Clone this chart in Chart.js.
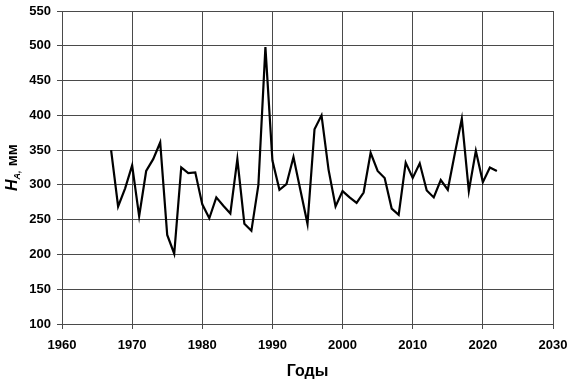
<!DOCTYPE html>
<html>
<head>
<meta charset="utf-8">
<script src="https://cdn.jsdelivr.net/npm/chart.js@4.4.0/dist/chart.umd.min.js"></script>
<style>
    html, body { margin: 0; padding: 0; background: #fff; }
    #wrap { width: 570px; height: 381px; }
</style>
</head>
<body>
<div id="wrap"><canvas id="chart" width="570" height="381"></canvas></div>
<script>
const years = [
    1967, 1968, 1969, 1970, 1971, 1972, 1973, 1974, 1975, 1976,
    1977, 1978, 1979, 1980, 1981, 1982, 1983, 1984, 1985, 1986,
    1987, 1988, 1989, 1990, 1991, 1992, 1993, 1994, 1995, 1996,
    1997, 1998, 1999, 2000, 2001, 2002, 2003, 2004, 2005, 2006,
    2007, 2008, 2009, 2010, 2011, 2012, 2013, 2014, 2015, 2016,
    2017, 2018, 2019, 2020, 2021, 2022
];
const runoff = [
    350, 269, 295, 328, 255, 320, 337, 361, 228, 201,
    325, 317, 318, 272, 252, 282, 270, 259, 337, 244,
    234, 300, 498, 335, 293, 301, 340, 292, 244, 380,
    400, 322, 269, 291, 282, 274, 289, 346, 320, 310,
    266, 257, 332, 310, 331, 292, 282, 307, 293, 345,
    395, 291, 349, 304, 325, 320
];
const xTicks = [1960, 1970, 1980, 1990, 2000, 2010, 2020, 2030];
const yTicks = [100, 150, 200, 250, 300, 350, 400, 450, 500, 550];

const FONT = "'Liberation Sans', Arial, sans-serif";
const GRID = '#4a4a4a';

// y-axis title with italic H and subscript "A,"
const yTitlePlugin = {
    id: 'yTitle',
    afterDraw(chart) {
        const ctx = chart.ctx;
        const cy = (chart.chartArea.top + chart.chartArea.bottom) / 2;
        ctx.save();
        ctx.translate(17, cy);
        ctx.rotate(-Math.PI / 2);
        ctx.fillStyle = '#000';
        ctx.textBaseline = 'alphabetic';
        const parts = [
            { t: 'H', f: `italic bold 16px ${FONT}`, dy: 0 },
            { t: 'A,', f: `italic bold 9px ${FONT}`, dy: 3 },
            { t: ' мм', f: `bold 15px ${FONT}`, dy: 0 }
        ];
        let total = 0;
        parts.forEach(p => { ctx.font = p.f; p.w = ctx.measureText(p.t).width; total += p.w; });
        let x = -total / 2;
        parts.forEach(p => {
            ctx.font = p.f;
            ctx.fillText(p.t, x, p.dy);
            x += p.w;
        });
        ctx.restore();
    }
};

new Chart(document.getElementById('chart').getContext('2d'), {
    type: 'line',
    data: {
        datasets: [{
            data: years.map((y, i) => ({ x: y, y: runoff[i] })),
            borderColor: '#000',
            borderWidth: 2.2,
            pointRadius: 0,
            tension: 0,
            fill: false
        }]
    },
    options: {
        responsive: false,
        animation: false,
        layout: { padding: { top: 11, right: 17, left: 0, bottom: 0 } },
        plugins: { legend: { display: false }, tooltip: { enabled: false } },
        scales: {
            x: {
                type: 'linear',
                min: 1960,
                max: 2030,
                afterBuildTicks: s => { s.ticks = xTicks.map(v => ({ value: v })); },
                afterFit: s => { s.height = 57; s.paddingLeft = 0; s.paddingRight = 0; },
                grid: { color: GRID, lineWidth: 1, tickLength: 5, drawTicks: true },
                border: { color: GRID, width: 1 },
                ticks: {
                    color: '#000',
                    padding: 9,
                    maxRotation: 0,
                    font: { family: FONT, size: 13, weight: 'bold' },
                    callback: v => String(v)
                },
                title: {
                    display: true,
                    text: 'Годы',
                    color: '#000',
                    padding: { top: 4, bottom: 0 },
                    font: { family: FONT, size: 16, weight: 'bold' }
                }
            },
            y: {
                type: 'linear',
                min: 100,
                max: 550,
                afterBuildTicks: s => { s.ticks = yTicks.map(v => ({ value: v })); },
                afterFit: s => { s.width = 62; s.paddingTop = 0; s.paddingBottom = 0; },
                grid: { color: GRID, lineWidth: 1, tickLength: 5, drawTicks: true },
                border: { color: GRID, width: 1 },
                ticks: {
                    color: '#000',
                    padding: 6,
                    font: { family: FONT, size: 13, weight: 'bold' },
                    callback: v => String(v)
                }
            }
        }
    },
    plugins: [yTitlePlugin]
});
</script>
</body>
</html>
